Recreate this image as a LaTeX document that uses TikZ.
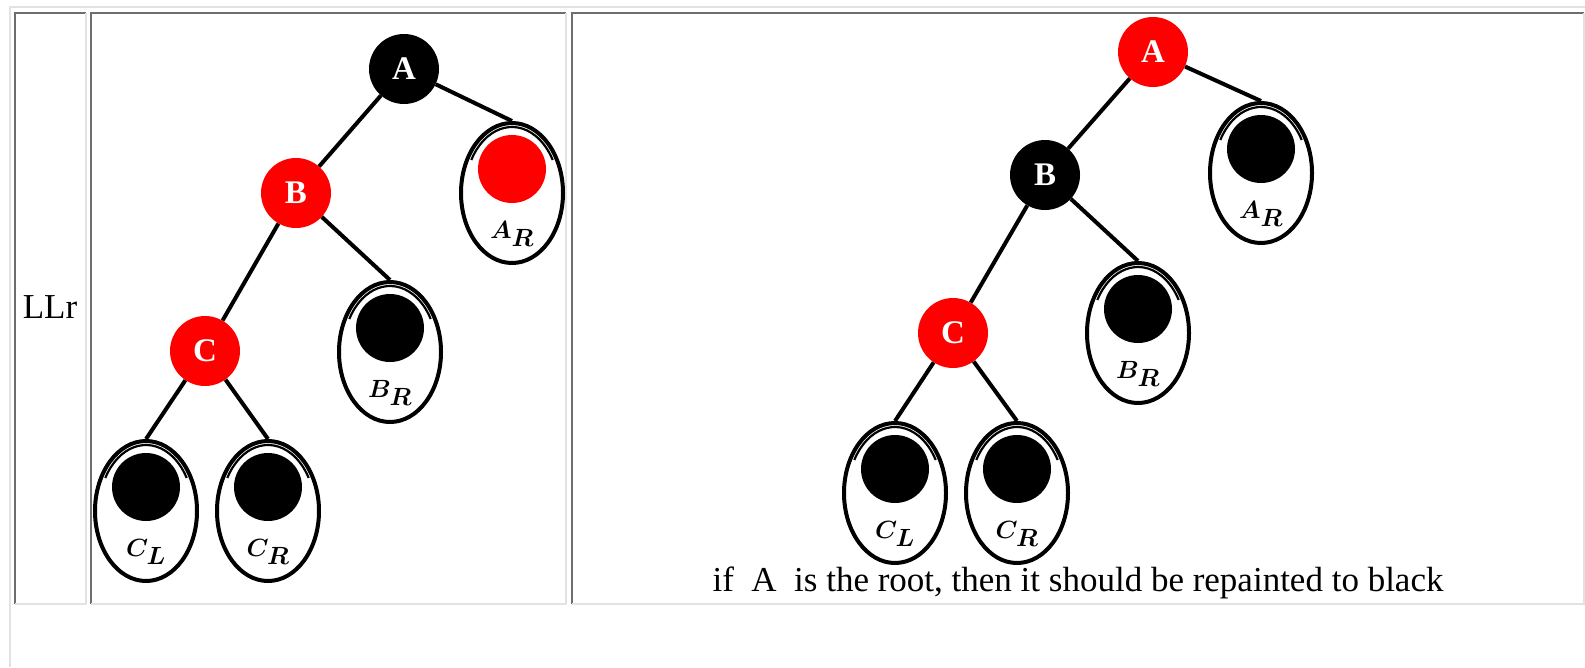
\documentclass[tikz,border=0pt]{standalone}
\usepackage{fontspec}
\newfontfamily\pagefont{Liberation Serif}
\usetikzlibrary{shapes.geometric}

\definecolor{cellshade}{HTML}{6E6E6E}
\definecolor{cellhi}{HTML}{E2E2E2}
\definecolor{rbred}{HTML}{FF0000}

\tikzset{
  rbnode/.style={circle, minimum size=70pt, inner sep=0pt, fill=#1, text=white,
    font=\pagefont\fontsize{33}{36}\selectfont\bfseries},
  subtree/.style={ellipse, draw, line width=4pt, minimum width=102pt,
    minimum height=140pt, inner sep=0pt},
  leafdot/.style={circle, minimum size=68pt, inner sep=0pt, fill=#1},
  leaflabel/.style={inner sep=0pt, font=\fontsize{34}{37}\selectfont\boldmath},
  treeedge/.style={line width=4pt},
  innerrim/.style={line width=2.2pt},
  cellshadow/.style={cellshade, line width=2pt},
  celllight/.style={cellhi, line width=2pt},
  celltext/.style={inner sep=0pt, anchor=base, font=\pagefont\fontsize{35}{40}\selectfont}
}

% a subtree: outlined ellipse holding a coloured root dot and its label
\newcommand\mysubtree[5]{%
  \node[subtree] (#1) at (#2,#3) {};
  \draw[innerrim] (#2-40.7,#3-33.0) arc[start angle=210, end angle=330, x radius=47, y radius=66];
  \node[leafdot=#4] (#1dot) at (#2,#3-24) {};
  \node[leaflabel] (#1lbl) at (#2,#3+41) {$#5$};
}

% one table cell with its inset border
\newcommand\mycell[4]{%
  \draw[cellshadow] (#1,#4) -- (#1,#2) -- (#3,#2);
  \draw[celllight] (#3,#2) -- (#3,#4) -- (#1,#4);
}

\begin{document}
\begin{tikzpicture}[x=1pt,y=-1pt]
  \useasboundingbox (0,0) rectangle (1585,667);
  \fill[white] (0,0) rectangle (1585,667);

  % table frame and cells
  \draw[celllight] (10,667) -- (10,7) -- (1585,7);
  \mycell{15}{13}{86}{604}
  \mycell{90.5}{13}{566}{604}
  \mycell{571.5}{13}{1583.5}{604}

  \node[celltext] (case) at (50,318) {LLr};

  % before the rotation
  \node[rbnode=black] (A1) at (404,69) {A};
  \node[rbnode=rbred] (B1) at (296,193) {B};
  \node[rbnode=rbred] (C1) at (205,351) {C};
  \mysubtree{AR1}{512}{193}{rbred}{A_R}
  \mysubtree{BR1}{390}{352}{black}{B_R}
  \mysubtree{CL1}{146}{511}{black}{C_L}
  \mysubtree{CR1}{268}{511}{black}{C_R}

  \draw[treeedge] (A1) -- (B1);
  \draw[treeedge] (A1) -- (AR1.north);
  \draw[treeedge] (B1) -- (C1);
  \draw[treeedge] (B1) -- (BR1.north);
  \draw[treeedge] (C1) -- (CL1.north);
  \draw[treeedge] (C1) -- (CR1.north);

  % after recolouring
  \node[rbnode=rbred] (A2) at (1153,52) {A};
  \node[rbnode=black] (B2) at (1045,175) {B};
  \node[rbnode=rbred] (C2) at (953,333) {C};
  \mysubtree{AR2}{1261}{173}{black}{A_R}
  \mysubtree{BR2}{1138}{333}{black}{B_R}
  \mysubtree{CL2}{895}{493}{black}{C_L}
  \mysubtree{CR2}{1017}{493}{black}{C_R}

  \draw[treeedge] (A2) -- (B2);
  \draw[treeedge] (A2) -- (AR2.north);
  \draw[treeedge] (B2) -- (C2);
  \draw[treeedge] (B2) -- (BR2.north);
  \draw[treeedge] (C2) -- (CL2.north);
  \draw[treeedge] (C2) -- (CR2.north);

  \node[celltext] (note) at (1078,591) {if~~A~~is the root, then it should be repainted to black};
\end{tikzpicture}
\end{document}
